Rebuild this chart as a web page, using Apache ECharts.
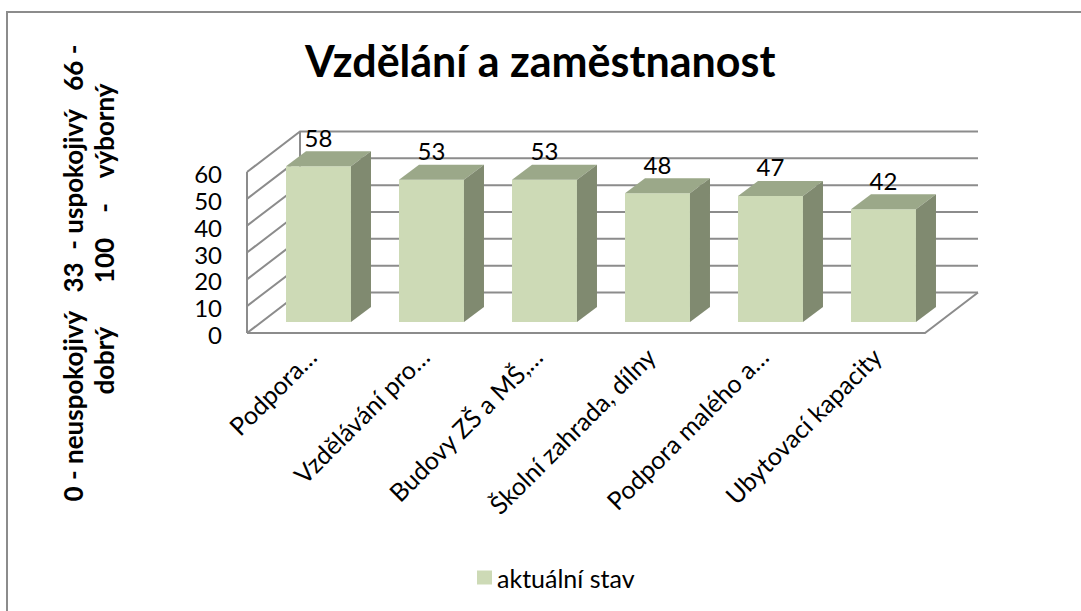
<!DOCTYPE html>
<html>
<head>
<meta charset="utf-8">
<script src="https://cdn.jsdelivr.net/npm/echarts@6/dist/echarts.min.js"></script>
<style>
  html, body { margin: 0; padding: 0; background: #fff; }
  #chart { width: 1081px; height: 611px; }
</style>
</head>
<body>
<div id="chart"></div>
<script>
// data
const categories = ['Podpora…', 'Vzdělávání pro…', 'Budovy ZŠ a MŠ,…', 'Školní zahrada, dílny', 'Podpora malého a…', 'Ubytovací kapacity']
const values = [58, 53, 53, 48, 47, 42]
const yTicks = [0, 10, 20, 30, 40, 50, 60]
const seriesName = 'aktuální stav'

const FONT = 'Lato'
const GRID_COLOR = '#8c8c8c'
const FRONT = '#cddab6'
const TOP = '#9ba889'
const SIDE = '#808a70'

// offsets of the 3D frame relative to the bar plane
const FRONT_DX = -15, FRONT_DY = 11
const BACK_DX = 38, BACK_DY = -29.5
const BAR_DX = 20, BAR_DY = -15

function renderWalls(params, api) {
  const cs = params.coordSys
  const t = api.value(1)
  const y = api.coord([0, t])[1]
  const left = cs.x, right = cs.x + cs.width
  const front = [left + FRONT_DX, y + FRONT_DY]
  const back = [left + BACK_DX, y + BACK_DY]
  const backRight = [right + BACK_DX, y + BACK_DY]
  const lineStyle = { stroke: GRID_COLOR, lineWidth: 2, fill: null }
  const children = [{ type: 'polyline', shape: { points: [front, back, backRight] }, style: lineStyle }]
  if (t === 0) {
    const yTop = api.coord([0, yTicks[yTicks.length - 1]])[1]
    children.push({ type: 'polyline', shape: { points: [front, [right + FRONT_DX, y + FRONT_DY], backRight] }, style: lineStyle })
    children.push({ type: 'line', shape: { x1: front[0], y1: front[1], x2: front[0], y2: yTop + FRONT_DY }, style: lineStyle })
    children.push({ type: 'line', shape: { x1: back[0], y1: back[1], x2: back[0], y2: yTop + BACK_DY }, style: lineStyle })
  }
  return { type: 'group', children }
}

function renderBar(params, api) {
  const v = api.value(1)
  const top = api.coord([api.value(0), v])
  const base = api.coord([api.value(0), 0])
  const w = api.size([1, 0])[0] * 0.575
  const l = top[0] - w / 2, r = top[0] + w / 2
  return {
    type: 'group',
    children: [
      { type: 'rect', shape: { x: l, y: top[1], width: w, height: base[1] - top[1] }, style: { fill: FRONT } },
      { type: 'polygon', shape: { points: [[l, top[1]], [r, top[1]], [r + BAR_DX, top[1] + BAR_DY], [l + BAR_DX, top[1] + BAR_DY]] }, style: { fill: TOP } },
      { type: 'polygon', shape: { points: [[r, top[1]], [r + BAR_DX, top[1] + BAR_DY], [r + BAR_DX, base[1] + BAR_DY], [r, base[1]]] }, style: { fill: SIDE } },
      { type: 'text', x: top[0], y: top[1] - 29, style: { text: String(v), fontFamily: FONT, fontSize: 24, fill: '#000', align: 'center', verticalAlign: 'middle' } }
    ]
  }
}

const chart = echarts.init(document.getElementById('chart'), null, { renderer: 'svg' })
chart.setOption({
  backgroundColor: '#fff',
  animation: false,
  title: {
    text: 'Vzdělání a zaměstnanost',
    left: 300,
    top: 34,
    textStyle: { fontFamily: FONT, fontSize: 43, fontWeight: 'bold', color: '#000' }
  },
  legend: {
    data: [seriesName],
    left: 472,
    top: 560,
    icon: 'rect',
    itemWidth: 15,
    itemHeight: 14,
    textStyle: { fontFamily: FONT, fontSize: 25, color: '#000' }
  },
  grid: [
    { left: 262, right: 141, top: 161, bottom: 289 },
    // label plane, a little in front of the bars
    { left: 255, right: 148, top: 161, bottom: 289 }
  ],
  xAxis: [
    {
      type: 'category',
      data: categories,
      axisLine: { show: false },
      axisTick: { show: false },
      axisLabel: { show: false }
    },
    {
      type: 'category',
      gridIndex: 1,
      data: categories,
      axisLine: { show: false },
      axisTick: { show: false },
      axisLabel: { rotate: 45, margin: 30, fontFamily: FONT, fontSize: 25, color: '#000', interval: 0 }
    }
  ],
  yAxis: [
    {
      type: 'value',
      min: 0,
      max: 60,
      interval: 10,
      axisLine: { show: false },
      axisTick: { show: false },
      splitLine: { show: false },
      axisLabel: {
        margin: 40,
        fontFamily: FONT,
        fontSize: 24,
        color: '#000',
        verticalAlign: 'top',
        lineHeight: 25,
        showMinLabel: true,
        showMaxLabel: true
      }
    },
    { type: 'value', gridIndex: 1, min: 0, max: 60, show: false, splitLine: { show: false } }
  ],
  graphic: [
    { type: 'rect', shape: { x: 7, y: 12, width: 1200, height: 800 }, style: { fill: null, stroke: GRID_COLOR, lineWidth: 2 } },
    { type: 'text', x: 73, y: 273, rotation: Math.PI / 2, style: { text: '0 - neuspokojivý   33  - uspokojivý   66 -', fontFamily: FONT, fontSize: 26, fontWeight: 'bold', fill: '#000', align: 'center', verticalAlign: 'middle' } },
    { type: 'text', x: 104, y: 239, rotation: Math.PI / 2, style: { text: 'dobrý       100    -    výborný', fontFamily: FONT, fontSize: 26, fontWeight: 'bold', fill: '#000', align: 'center', verticalAlign: 'middle' } }
  ],
  series: [
    {
      type: 'custom',
      name: 'walls',
      clip: false,
      silent: true,
      z: 1,
      renderItem: renderWalls,
      data: yTicks.map((t) => [0, t])
    },
    {
      type: 'custom',
      name: seriesName,
      clip: false,
      z: 2,
      itemStyle: { color: FRONT },
      renderItem: renderBar,
      encode: { x: 0, y: 1 },
      data: values.map((v, i) => [i, v])
    }
  ]
})
</script>
</body>
</html>
